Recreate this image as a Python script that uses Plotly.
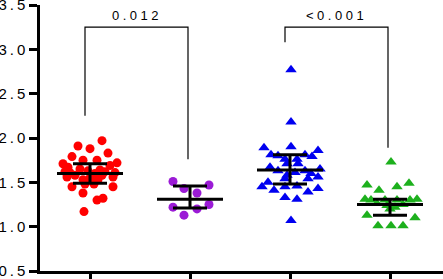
import plotly.graph_objects as go

# ---- data ----
groups = ["G1", "G2", "G3", "G4"]

red_y = [1.97, 1.91, 1.88, 1.83, 1.79, 1.75, 1.75, 1.72, 1.71, 1.69, 1.67, 1.65,
         1.64, 1.63, 1.62, 1.62, 1.61, 1.61, 1.60, 1.58, 1.58, 1.56, 1.56, 1.55,
         1.53, 1.53, 1.48, 1.48, 1.45, 1.45, 1.38, 1.32, 1.30, 1.17]
red_dx = [0.12, -0.12, 0.00, 0.18, -0.18, -0.07, 0.07, 0.27, -0.27, 0.20, -0.22, -0.10,
          0.10, -0.02, -0.25, 0.15, -0.20, 0.25, 0.05, -0.15, 0.12, -0.23, 0.23, 0.00,
          -0.07, 0.08, -0.05, 0.04, -0.18, 0.23, -0.07, 0.13, 0.07, -0.06]

purple_y = [1.51, 1.47, 1.43, 1.38, 1.25, 1.22, 1.20, 1.13]
purple_dx = [-0.17, 0.19, -0.06, 0.07, 0.19, -0.17, 0.07, -0.06]

blue_y = [2.77, 2.18, 1.89, 1.90, 1.86, 1.81, 1.80, 1.81, 1.79, 1.76, 1.76, 1.71,
          1.71, 1.67, 1.63, 1.63, 1.65, 1.61, 1.58, 1.60, 1.56, 1.54, 1.54, 1.50,
          1.45, 1.41, 1.45, 1.46, 1.39, 1.43, 1.33, 1.31, 1.07]
blue_dx = [0.01, 0.01, -0.26, 0.01, 0.28, -0.19, -0.12, 0.15, 0.22, -0.05, 0.07, -0.03,
           0.08, -0.20, -0.12, 0.15, 0.30, 0.05, -0.03, 0.21, 0.28, -0.05, 0.18, -0.22,
           -0.28, -0.16, -0.05, 0.07, 0.18, 0.28, -0.05, 0.07, 0.01]

green_y = [1.73, 1.47, 1.41, 1.45, 1.49, 1.31, 1.30, 1.30, 1.30, 1.30, 1.31,
           1.26, 1.24, 1.22, 1.25, 1.20, 1.13, 1.10, 1.01, 1.01, 1.01]
green_dx = [0.01, -0.23, -0.11, 0.07, 0.19, -0.25, -0.19, -0.05, 0.07, 0.20, 0.27,
            -0.13, -0.03, 0.05, 0.13, 0.00, -0.23, 0.25, -0.12, 0.01, 0.13]

center = [1.60, 1.31, 1.64, 1.25]
lower = [1.49, 1.21, 1.48, 1.13]
upper = [1.71, 1.46, 1.81, 1.31]

y_ticks = [0.5, 1.0, 1.5, 2.0, 2.5, 3.0, 3.5]
y_tick_labels = ["0.5", "1.0", "1.5", "2.0", "2.5", "3.0", "3.5"]

comparisons = [(0, 1, "0.012"), (2, 3, "<0.001")]

# ---- figure ----
series = [
    (red_y, red_dx, "#FF0000", "circle"),
    (purple_y, purple_dx, "#9B1BD6", "circle"),
    (blue_y, blue_dx, "#0000F0", "triangle-up"),
    (green_y, green_dx, "#1DB01D", "triangle-up"),
]

fig = go.Figure()
for gi, (ys, dxs, col, sym) in enumerate(series):
    fig.add_trace(go.Scatter(
        x=[gi + d for d in dxs], y=ys, mode="markers",
        marker=dict(color=col, symbol=sym, size=9 if sym == "circle" else 10,
                    line=dict(width=0)),
        showlegend=False, cliponaxis=False))

# error bars (centre with lower/upper)
fig.add_trace(go.Scatter(
    x=list(range(len(groups))), y=center, mode="markers",
    marker=dict(size=1, color="rgba(0,0,0,0)"),
    error_y=dict(type="data", symmetric=False,
                 array=[u - c for u, c in zip(upper, center)],
                 arrayminus=[c - l for c, l in zip(center, lower)],
                 color="black", thickness=3, width=17),
    showlegend=False))
# centre lines
for gi, c in enumerate(center):
    fig.add_trace(go.Scatter(x=[gi - 0.33, gi + 0.33], y=[c, c], mode="lines",
                             line=dict(color="black", width=3),
                             showlegend=False, hoverinfo="skip"))

# significance brackets
bracket_y = 3.25
legs = {0: 2.25, 1: 1.76, 2: 3.08, 3: 1.89}
for a, b, label in comparisons:
    xa, xb = a - 0.05, b - 0.02
    fig.add_trace(go.Scatter(x=[xa, xa, xb, xb],
                             y=[legs[a], bracket_y, bracket_y, legs[b]],
                             mode="lines", line=dict(color="black", width=1.2),
                             showlegend=False, hoverinfo="skip"))
    fig.add_annotation(x=(xa + xb) / 2, y=3.385, xref="x", yref="y",
                       text='<span style="letter-spacing:3.5px">' + label + '</span>',
                       showarrow=False,
                       font=dict(family="Arial, Liberation Sans", size=13, color="black"))

fig.update_layout(
    width=443, height=279,
    margin=dict(l=40, r=0, t=5, b=8),
    paper_bgcolor="white", plot_bgcolor="white",
    font=dict(family="Arial, Liberation Sans", color="black"),
    xaxis=dict(range=[-0.5, 3.53], tickvals=list(range(len(groups))),
               showticklabels=False, ticks="outside", ticklen=8, tickwidth=2.5,
               tickcolor="black", showline=True, linecolor="black", linewidth=2.5,
               showgrid=False, zeroline=False, automargin=False),
    yaxis=dict(range=[0.5, 3.5], tickvals=y_ticks,
               ticktext=['<span style="letter-spacing:3px">' + t + '</span>' for t in y_tick_labels],
               ticks="outside", ticklen=8, tickwidth=2.5, tickcolor="black",
               showline=True, linecolor="black", linewidth=2.5,
               showgrid=False, zeroline=False, automargin=False,
               ticklabeloverflow="allow", ticklabelstandoff=-2,
               tickfont=dict(family="Arial, Liberation Sans", size=15, color="black")),
)

fig.write_html("out.html", config={"displayModeBar": False},
               post_script="document.body.style.margin='0';document.body.style.overflow='hidden';")
